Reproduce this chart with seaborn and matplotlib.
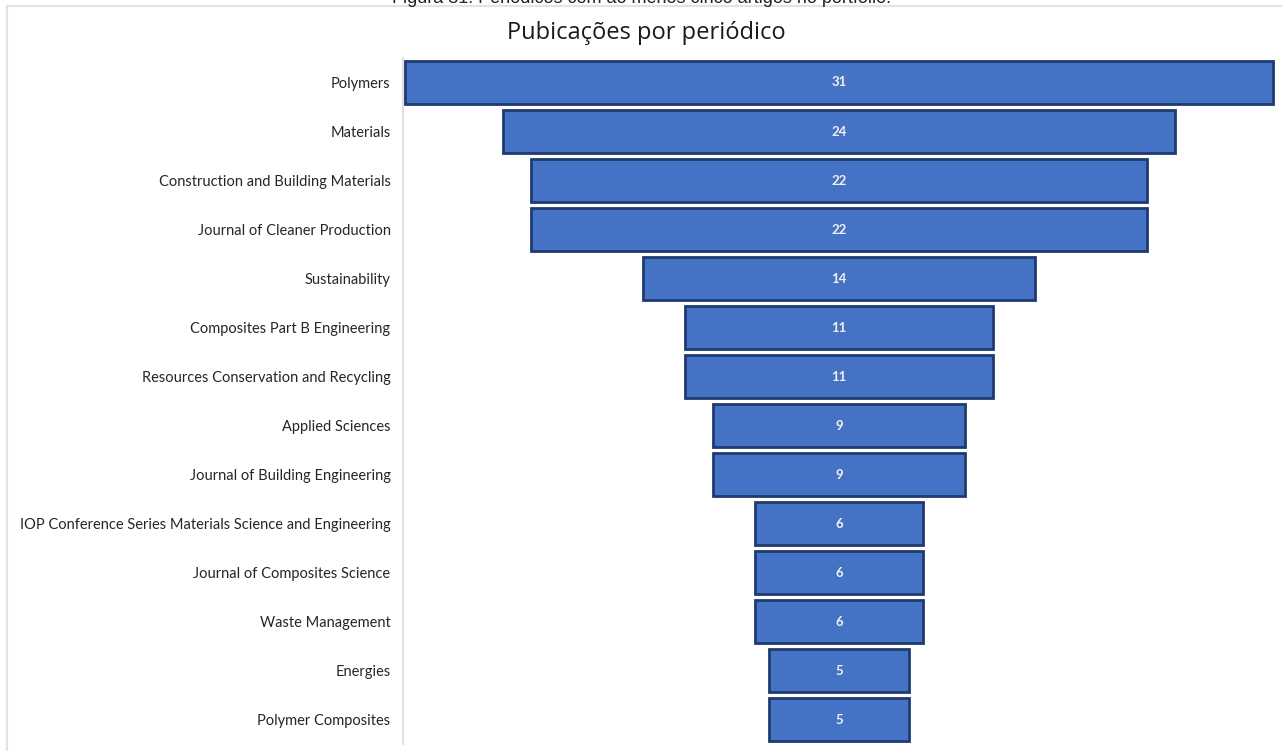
import matplotlib
matplotlib.use("Agg")
import matplotlib.pyplot as plt
import matplotlib.patches as mpatches
import seaborn as sns

# Data
journals = [
    "Polymers",
    "Materials",
    "Construction and Building Materials",
    "Journal of Cleaner Production",
    "Sustainability",
    "Composites Part B Engineering",
    "Resources Conservation and Recycling",
    "Applied Sciences",
    "Journal of Building Engineering",
    "IOP Conference Series Materials Science and Engineering",
    "Journal of Composites Science",
    "Waste Management",
    "Energies",
    "Polymer Composites",
]
counts = [31, 24, 22, 22, 14, 11, 11, 9, 9, 6, 6, 6, 5, 5]

title = "Pubicações por periódico"
caption = "Figura 31: Periódicos com ao menos cinco artigos no portfólio."

sns.set_theme(style="white")
plt.rcParams["font.family"] = ["Lato", "DejaVu Sans"]

fig = plt.figure(figsize=(12.82, 7.51), dpi=100)
ax = fig.add_axes([403 / 1282, 1 - 744 / 751, 872 / 1282, 686 / 751])

sns.barplot(x=counts, y=journals, orient="h", color="#4472C4", width=0.87,
            edgecolor="#1F3A70", linewidth=2, saturation=1, ax=ax)

# center bars around zero to get the funnel shape
for p in ax.patches:
    p.set_x(-p.get_width() / 2)
ax.set_xlim(-15.57, 15.57)

ax.bar_label(ax.containers[0], label_type="center", color="#f0f0f0",
             fontsize=9.5, fontweight="bold")

ax.set_xlabel("")
ax.set_ylabel("")
ax.set_xticks([])
ax.tick_params(axis="y", length=0, pad=9, labelsize=10.5, labelcolor="#262626")
for s in ["top", "right", "bottom"]:
    ax.spines[s].set_visible(False)
ax.spines["left"].set_color("#d9d9d9")
ax.spines["left"].set_linewidth(1.2)

# outer chart frame and texts
fig.patches.append(mpatches.Rectangle((7 / 1282, -0.01), 1.0, 1 - 6 / 751 + 0.01,
                                      transform=fig.transFigure, fill=False,
                                      edgecolor="#e3e3e3", linewidth=1.5))
fig.text(0.504, 1 - 33 / 751, title, ha="center", va="center", fontsize=17,
         color="#1a1a1a", family=["Open Sans", "DejaVu Sans"])
fig.text(0.5, 1 - 3 / 751, caption, ha="center", va="baseline", fontsize=13,
         color="#222222", family="Liberation Sans")

fig.savefig("out.png", dpi=100)
